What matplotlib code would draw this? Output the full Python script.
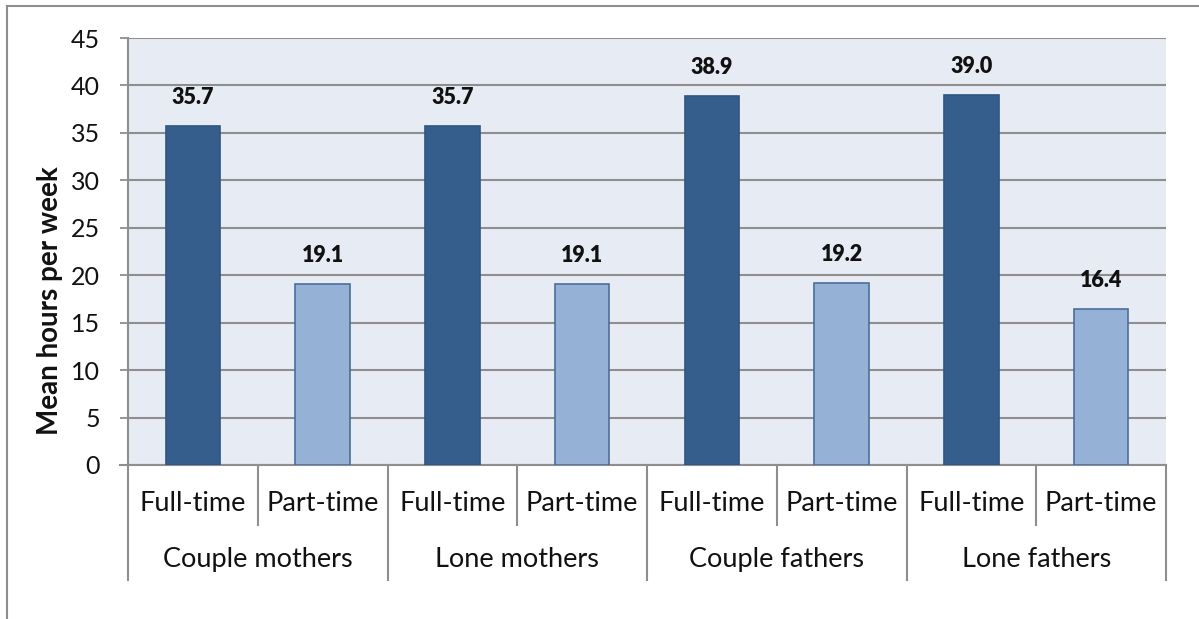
import matplotlib.pyplot as plt
from matplotlib.lines import Line2D
import numpy as np

groups = ['Couple mothers', 'Lone mothers', 'Couple fathers', 'Lone fathers']
work_types = ['Full-time', 'Part-time']
full_time = [35.7, 35.7, 38.9, 39.0]
part_time = [19.1, 19.1, 19.2, 16.4]

plt.rcParams['font.family'] = ['Lato', 'DejaVu Sans']

dark = '#355E8D'
light = '#95B2D6'
grid_col = '#8E8E8E'

fig = plt.figure(figsize=(11.99, 6.19), dpi=100)
ax = fig.add_axes([128/1199, 1 - 465/619, (1166-128)/1199, (465-38)/619])
ax.set_facecolor('#E7ECF4')

values = []
colors = []
for ft, pt in zip(full_time, part_time):
    values += [ft, pt]
    colors += [dark, light]
x = np.arange(len(values))
edges = ['#2E5583' if c == dark else '#4A6E9C' for c in colors]
ax.bar(x, values, width=0.42, color=colors, edgecolor=edges, linewidth=1.2, zorder=3)

for xi, v in zip(x, values):
    ax.annotate(f'{v:.1f}', (xi, v), xytext=(0, 20.5), textcoords='offset points',
                ha='center', va='center', fontsize=15.5, fontweight='heavy', color='#111111')

ax.set_xlim(-0.5, len(values) - 0.5)
ax.set_ylim(0, 45)
ax.set_yticks(np.arange(0, 46, 5))
ax.yaxis.grid(True, color=grid_col, linewidth=1.5, zorder=0)
ax.set_axisbelow(True)
ax.tick_params(axis='y', length=6, width=1.3, color=grid_col, labelsize=18, pad=14,
               labelcolor='#111111')
ax.tick_params(axis='x', length=0, labelbottom=False)
for s in ['top', 'right']:
    ax.spines[s].set_visible(False)
ax.spines['left'].set_color(grid_col)
ax.spines['left'].set_linewidth(1.5)
ax.spines['bottom'].set_visible(False)
ax.set_ylabel('Mean hours per week', fontsize=20, fontweight='bold', color='#111111')
ax.yaxis.label.set_va('center')
ax.yaxis.set_label_coords((50 - 128) / 1038, 0.385)

# two-level category axis below the plot
tr = ax.get_xaxis_transform()
ax.add_line(Line2D([-0.56, len(values) - 0.5], [0, 0], transform=tr, color=grid_col,
                   linewidth=1.5, clip_on=False))
for k in range(len(values) + 1):
    bottom = -0.269 if k % 2 == 0 else -0.1405
    ax.add_line(Line2D([k - 0.5, k - 0.5], [0, bottom], transform=tr, color=grid_col,
                       linewidth=1.5, clip_on=False))
for xi in x:
    ax.text(xi, -0.090, work_types[xi % 2], transform=tr, ha='center', va='center',
            fontsize=19.5, color='#111111')
for gi, g in enumerate(groups):
    ax.text(2 * gi + 0.5, -0.222, g, transform=tr, ha='center', va='center',
            fontsize=19.5, color='#111111')

# chart area frame
fig.add_artist(Line2D([7/1199, 1], [1 - 6/619, 1 - 6/619], transform=fig.transFigure,
                      color='#8E8E8E', linewidth=1.5))
fig.add_artist(Line2D([7/1199, 7/1199], [0, 1 - 6/619], transform=fig.transFigure,
                      color='#8E8E8E', linewidth=1.5))

fig.savefig('out.png', dpi=100)
